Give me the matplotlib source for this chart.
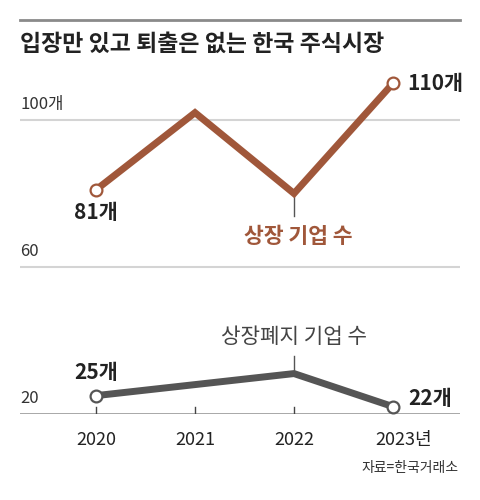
import matplotlib
matplotlib.use("Agg")
import matplotlib.pyplot as plt
from matplotlib.lines import Line2D

plt.rcParams['font.family'] = ['Noto Sans CJK KR', 'DejaVu Sans']

years = ["2020", "2021", "2022", "2023년"]
listed = [81, 102, 80, 110]
delisted = [25, 28, 31, 22]
yticks = [20, 60, 100]
ytick_labels = ["20", "60", "100개"]

BROWN = "#A0573A"
GRAY = "#555555"
W, H = 480, 500
fig = plt.figure(figsize=(W / 100, H / 100), dpi=100)

# axes placement in pixels
ax_left, ax_right = 20, 460
y_base_px = 414
px_per_unit = 3.675
ymin, ymax = 20, 118
px_per_year = 99
x0_px = 96
xmin = -(x0_px - ax_left) / px_per_year
xmax = xmin + (ax_right - ax_left) / px_per_year
ax = fig.add_axes([ax_left / W, 1 - y_base_px / H, (ax_right - ax_left) / W,
                   (ymax - ymin) * px_per_unit / H])
ax.set_xlim(xmin, xmax)
ax.set_ylim(ymin, ymax)
ax.axis("off")

x = list(range(len(years)))

# grid
for v, lab in zip(yticks, ytick_labels):
    if v == 20:
        ax.axhline(v, color="#9a9a9a", lw=1.2, zorder=1)
    else:
        ax.axhline(v, color="#d4d4d4", lw=1.5, zorder=1)
    ax.annotate(lab, xy=(0, v), xycoords=("axes fraction", "data"),
                xytext=(0, 5), textcoords="offset points", ha="left", va="bottom",
                fontsize=12, color="#333333")

# tick marks and labels
for xi, lab in zip(x, years):
    ax.plot([xi, xi], [20, 20 + 7 / px_per_unit], color="#444444", lw=1, zorder=2)
    ax.annotate(lab, xy=(xi, 20), xytext=(8 if lab.endswith("년") else 0, -12),
                textcoords="offset points", ha="center", va="top",
                fontsize=13, color="#222222")

# leader lines at 2022
ax.plot([2, 2], [listed[2], listed[2] - 22 / px_per_unit], color="#555555", lw=1, zorder=2)
ax.plot([2, 2], [delisted[2], delisted[2] + 18 / px_per_unit], color="#555555", lw=1, zorder=2)

# series
ax.plot(x, listed, color=BROWN, lw=5, solid_joinstyle="miter", zorder=3)
ax.plot(x, delisted, color=GRAY, lw=5, solid_joinstyle="miter", zorder=3)
for series, col in ((listed, BROWN), (delisted, GRAY)):
    ax.plot([x[0], x[-1]], [series[0], series[-1]], ls="none", marker="o", ms=8.5,
            mfc="white", mec=col, mew=1.6, zorder=4)

# value labels
bold = dict(fontsize=15, fontweight="bold", color="#222222")
ax.annotate(f"{listed[0]}개", xy=(x[0], listed[0]), xytext=(0, -9),
            textcoords="offset points", ha="center", va="top", **bold)
ax.annotate(f"{listed[-1]}개", xy=(x[-1], listed[-1]), xytext=(10, 0),
            textcoords="offset points", ha="left", va="center", **bold)
ax.annotate(f"{delisted[0]}개", xy=(x[0], delisted[0]), xytext=(0, 9),
            textcoords="offset points", ha="center", va="bottom", **bold)
ax.annotate(f"{delisted[-1]}개", xy=(x[-1], delisted[-1]), xytext=(11, 6),
            textcoords="offset points", ha="left", va="center", **bold)

# series names
ax.annotate("상장 기업 수", xy=(2, listed[2]), xytext=(3, -31),
            textcoords="offset points", ha="center", va="center",
            fontsize=15.5, fontweight="bold", color=BROWN)
ax.annotate("상장폐지 기업 수", xy=(2, delisted[2]), xytext=(0, 26),
            textcoords="offset points", ha="center", va="center",
            fontsize=15.3, color="#444444")

# top rule and title
fig.add_artist(Line2D([20 / W, 460 / W], [1 - 20 / H, 1 - 20 / H],
                      color="#8a8a8a", lw=2))
fig.text(20 / W, 1 - 44 / H, "입장만 있고 퇴출은 없는 한국 주식시장",
         ha="left", va="center", fontsize=16.5, fontweight="bold", color="#222222")

# source
fig.text(458 / W, 1 - 468 / H, "자료=한국거래소", ha="right", va="center",
         fontsize=10, color="#333333")

fig.savefig("out.png", dpi=100)
